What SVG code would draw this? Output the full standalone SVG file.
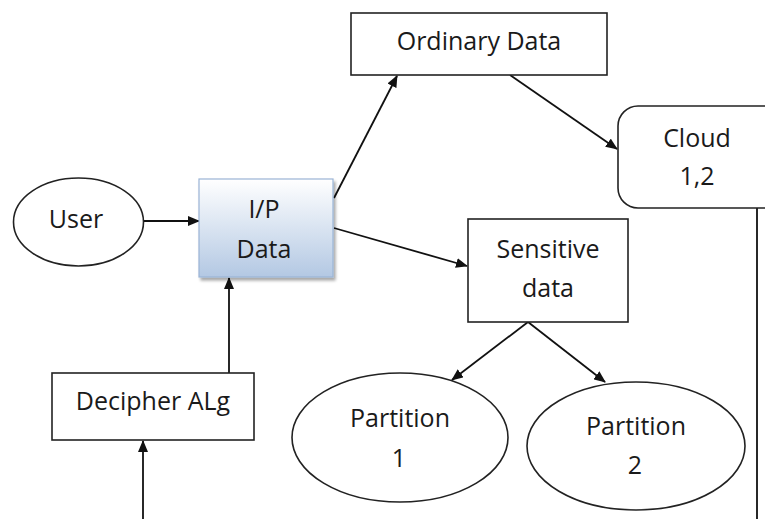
<svg xmlns="http://www.w3.org/2000/svg" width="765" height="519" viewBox="0 0 765 519">
<defs>
<style>
.s{fill:#fff;stroke:#222;stroke-width:1.6}
.t{font-family:"Open Sans","Liberation Sans",sans-serif;font-size:25px;fill:#1a1a1a;text-anchor:middle}
.c{stroke:#111;stroke-width:1.8;fill:none;marker-end:url(#ah)}
.l{stroke:#111;stroke-width:1.8;fill:none}
</style>
<marker id="ah" viewBox="0 0 12 10" refX="11" refY="5" markerWidth="12" markerHeight="10" markerUnits="userSpaceOnUse" orient="auto">
<path d="M0,0 L12,5 L0,10 Z" fill="#111"/>
</marker>
<linearGradient id="g" x1="0" y1="0" x2="0" y2="1">
<stop offset="0" stop-color="#ffffff"/>
<stop offset="1" stop-color="#b3c8e3"/>
</linearGradient>
<filter id="sh" x="-10%" y="-10%" width="130%" height="130%">
<feGaussianBlur in="SourceAlpha" stdDeviation="1.5"/>
<feOffset dx="2" dy="3" result="b"/>
<feComponentTransfer><feFuncA type="linear" slope="0.35"/></feComponentTransfer>
<feMerge><feMergeNode/><feMergeNode in="SourceGraphic"/></feMerge>
</filter>
</defs>

<g id="connectors">
<line class="c" x1="144" y1="221" x2="199" y2="221"/>
<line class="c" x1="334" y1="198" x2="397" y2="76"/>
<line class="c" x1="510" y1="75" x2="617" y2="149"/>
<line class="c" x1="334" y1="228" x2="467" y2="266"/>
<line class="c" x1="528" y1="322" x2="452" y2="380"/>
<line class="c" x1="528" y1="322" x2="605" y2="382"/>
<line class="c" x1="229" y1="373" x2="229" y2="278"/>
<line class="c" x1="143" y1="519" x2="143" y2="441"/>
<line class="l" x1="757" y1="208" x2="757" y2="519"/>
</g>

<g id="user">
<ellipse class="s" cx="78.5" cy="222" rx="65" ry="44"/>
<text class="t" x="76" y="228">User</text>
</g>

<g id="ipdata">
<rect x="199" y="179" width="134" height="98" fill="url(#g)" stroke="#9ab4d6" stroke-width="1.2" filter="url(#sh)"/>
<text class="t" x="264" y="218">I/P</text>
<text class="t" x="264" y="258">Data</text>
</g>

<g id="ordinary">
<rect class="s" x="351" y="13" width="256" height="62"/>
<text class="t" x="479" y="50">Ordinary Data</text>
</g>

<g id="cloud">
<rect class="s" x="618" y="106" width="170" height="102" rx="20" ry="20"/>
<text class="t" x="697" y="147">Cloud</text>
<text class="t" x="697" y="185">1,2</text>
</g>

<g id="sensitive">
<rect class="s" x="468" y="219" width="160" height="103"/>
<text class="t" x="548" y="258">Sensitive</text>
<text class="t" x="548" y="297">data</text>
</g>

<g id="partition1">
<ellipse class="s" cx="400" cy="437.5" rx="108" ry="64.5"/>
<text class="t" x="400" y="427">Partition</text>
<text class="t" x="399" y="467">1</text>
</g>

<g id="partition2">
<ellipse class="s" cx="636" cy="446" rx="109" ry="64"/>
<text class="t" x="636" y="435">Partition</text>
<text class="t" x="635" y="474">2</text>
</g>

<g id="decipher">
<rect class="s" x="52" y="373" width="202" height="67"/>
<text class="t" x="153" y="410">Decipher ALg</text>
</g>
</svg>
